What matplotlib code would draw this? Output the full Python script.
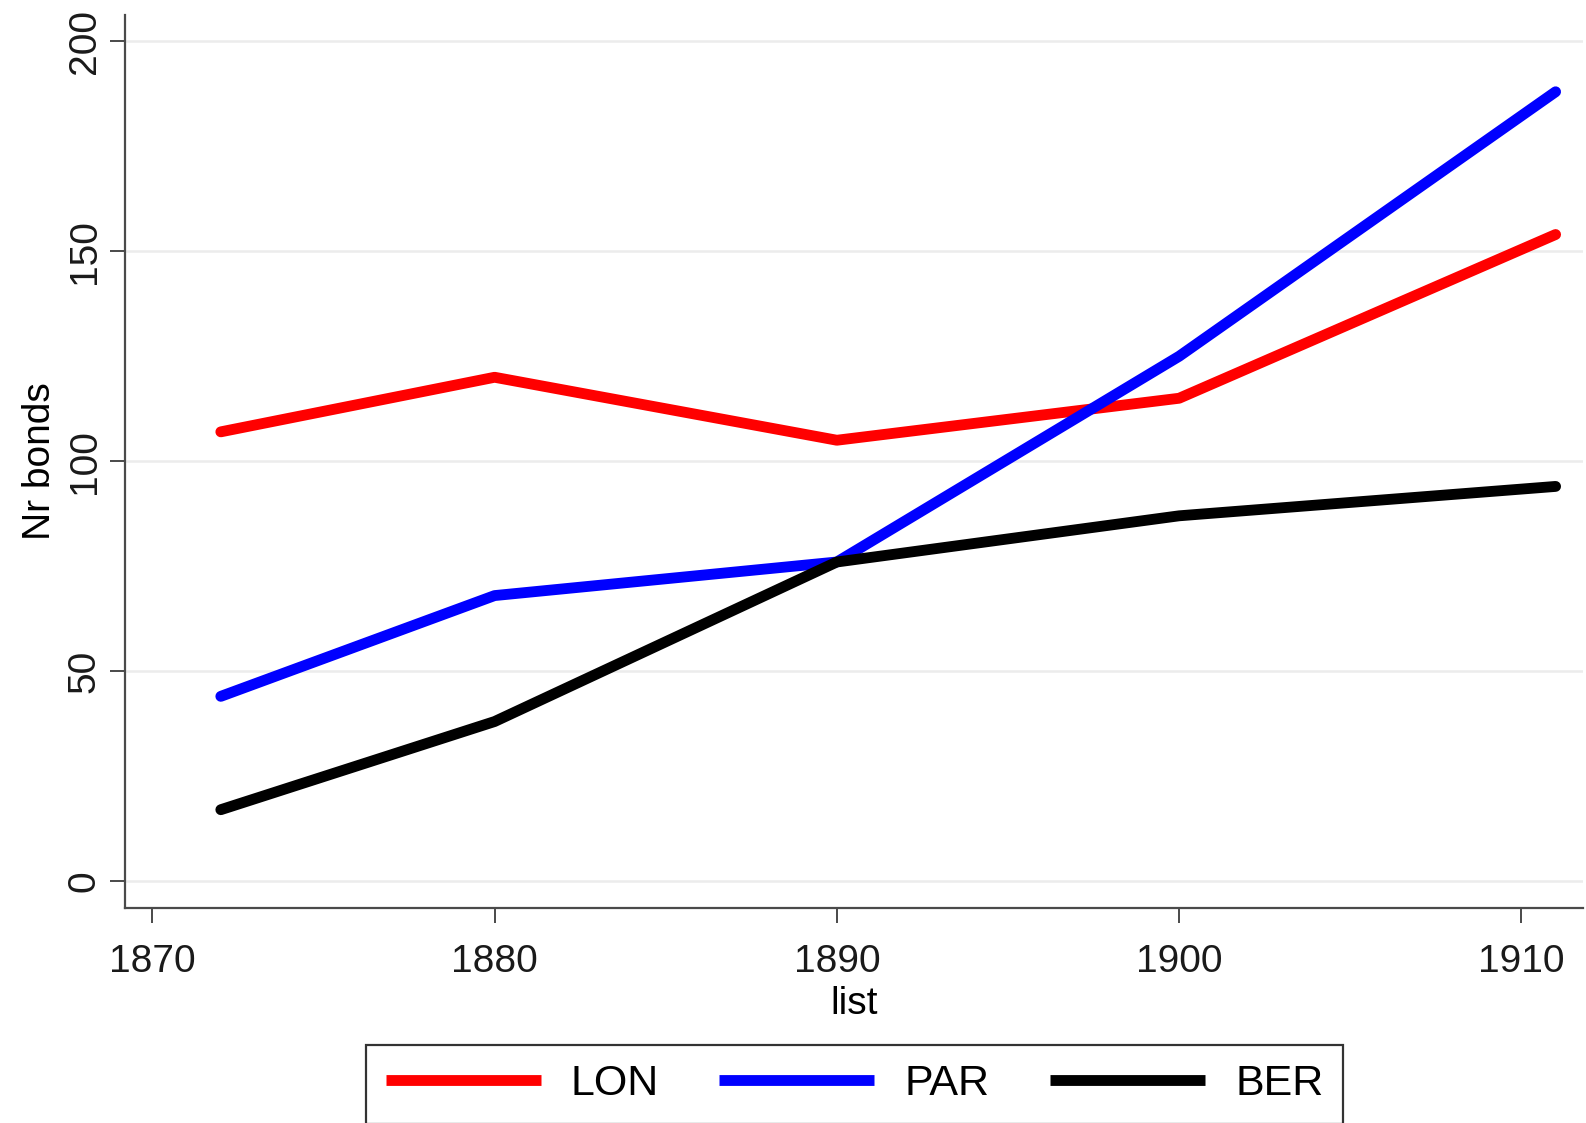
import matplotlib
matplotlib.use("Agg")
import matplotlib.pyplot as plt
from matplotlib import font_manager

# Number of bonds listed per exchange, by list year
years = [1872, 1880, 1890, 1900, 1911]
lon = [107, 120, 105, 115, 154]
par = [44, 68, 76, 125, 188]
ber = [17, 38, 76, 87, 94]

xticks = [1870, 1880, 1890, 1900, 1910]
yticks = [0, 50, 100, 150, 200]

plt.rcParams['font.family'] = ['Liberation Sans', 'DejaVu Sans']

names = {f.name for f in font_manager.fontManager.ttflist}
legend_font = 'Liberation Sans Narrow' if 'Liberation Sans Narrow' in names else 'Liberation Sans'

fig = plt.figure(figsize=(15.86, 11.23), dpi=100)
ax = fig.add_axes([0.0788, 0.1915, 0.9193, 0.7952])

ax.plot(years, lon, color='#ff0000', lw=7.8, label='LON', solid_capstyle='round')
ax.plot(years, par, color='#0000ff', lw=7.8, label='PAR', solid_capstyle='round')
ax.plot(years, ber, color='black', lw=7.8, label='BER', solid_capstyle='round')

ax.set_xlim(1869.2, 1911.8)
ax.set_ylim(-6.4, 206.3)
ax.set_xticks(xticks)
ax.set_yticks(yticks)

ax.grid(axis='y', color='#ececec', lw=1.8)
ax.set_axisbelow(True)

for side in ['top', 'right']:
    ax.spines[side].set_visible(False)
for side in ['left', 'bottom']:
    ax.spines[side].set_color('#4a4a4a')
    ax.spines[side].set_linewidth(1.6)

ax.tick_params(axis='both', length=11, width=1.4, color='#4a4a4a',
               labelsize=28, labelcolor='#1a1a1a')
ax.tick_params(axis='x', pad=15)
ax.tick_params(axis='y', pad=5, labelrotation=90)
for lbl in ax.get_yticklabels():
    lbl.set_va('center')

ax.set_ylabel('Nr bonds', fontsize=28, labelpad=6)
ax.set_xlabel('list', fontsize=28, labelpad=4)

leg = fig.legend(loc='center', bbox_to_anchor=(0.5388, 0.0345), ncol=3,
                 frameon=True, fancybox=False, edgecolor='black',
                 prop={'family': legend_font, 'size': 31},
                 handlelength=3.6, handletextpad=0.7, columnspacing=1.4,
                 borderpad=0.45)
leg.get_frame().set_linewidth(1.6)
for h in leg.get_lines():
    h.set_linewidth(7.8)
    h.set_solid_capstyle('butt')

fig.savefig('out.png', dpi=100)
